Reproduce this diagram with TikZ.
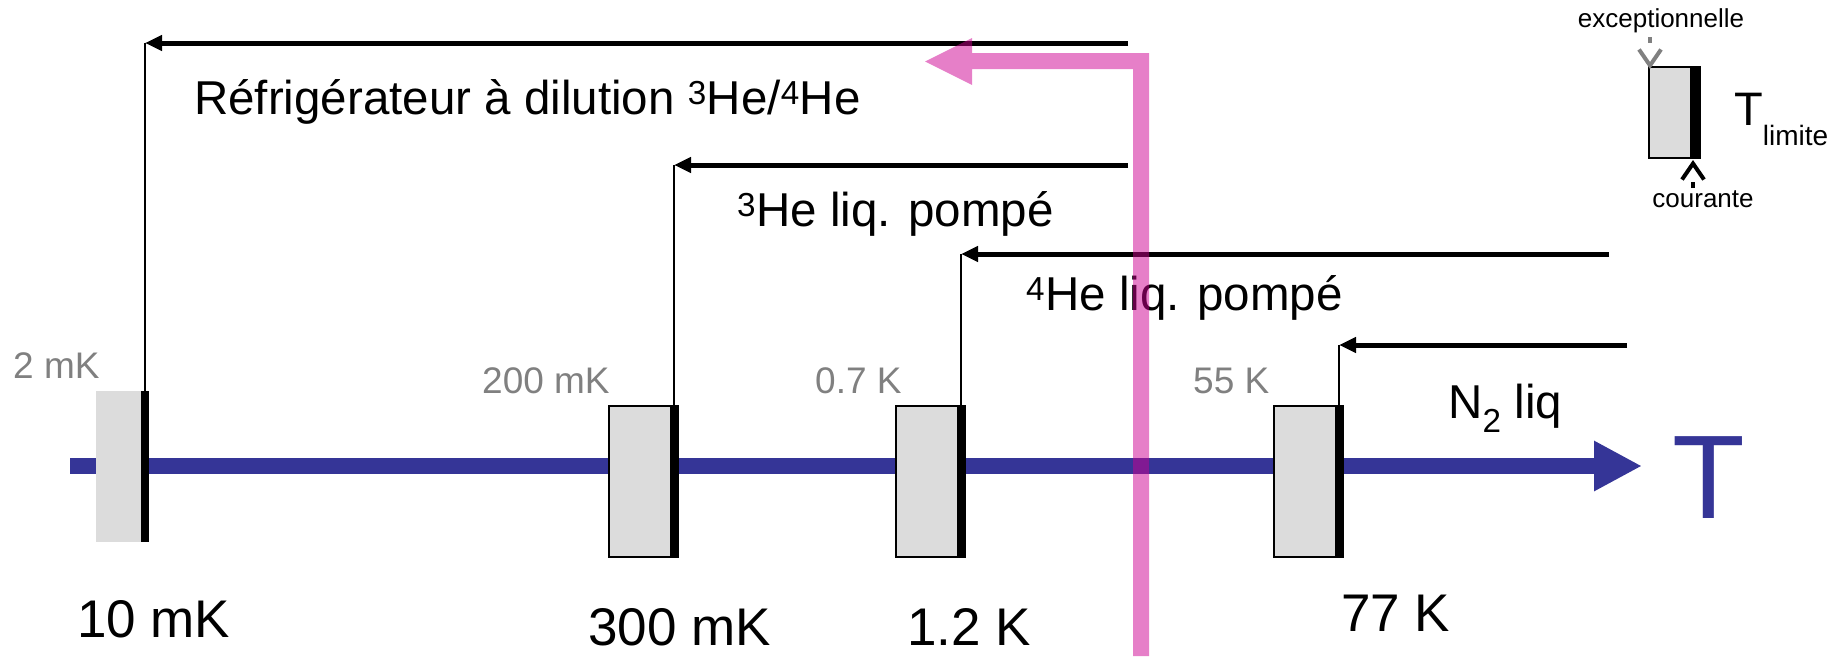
\documentclass[tikz,border=0pt]{standalone}
\usepackage{fontspec}
\setmainfont{Liberation Sans}
\usetikzlibrary{arrows.meta}
\definecolor{axisblue}{RGB}{53,53,151}
\definecolor{pumppink}{RGB}{205,0,145}
\definecolor{boxgray}{RGB}{220,220,220}
\definecolor{labelgray}{RGB}{128,128,128}
\tikzset{
	stage/.style={rectangle,fill=boxgray,draw=black,line width=1.5pt,inner sep=0pt,outer sep=0pt,minimum width=69pt,minimum height=151pt},
	feed/.style={line width=5pt,-{Triangle[length=17pt,width=15pt]}},
	stem/.style={line width=1.5pt},
	lbl/.style={inner sep=0pt,anchor=base west},
	cryo/.style={lbl,font=\fontsize{47.5}{54}\selectfont},
	tbig/.style={lbl,font=\fontsize{53}{60}\selectfont},
	tmin/.style={lbl,text=labelgray,font=\fontsize{37}{44}\selectfont},
	legtxt/.style={inner sep=0pt,anchor=base,font=\fontsize{26}{30}\selectfont},
	legtip/.style={line width=4pt,dash pattern=on 6pt off 40pt,-{Straight Barb[length=16pt,width=22pt]}}
}
\begin{document}
\begin{tikzpicture}[x=1pt,y=-1pt]
	\useasboundingbox (0,0) rectangle (1843,656);
	% axe des temperatures
	\coordinate (t0) at (70,466);
	\coordinate (t1) at (1642,466);
	\draw[axisblue,line width=16pt,-{Triangle[length=48pt,width=47pt]}] (t0) -- (t1);
	\node[lbl,text=axisblue,font=\fontsize{119}{130}\selectfont] (T) at (1672,518) {T};
	% etages
	\node[stage,draw=none,minimum width=53pt] (s1) at (122.5,466.5) {};
	\foreach \n/\x in {s2/643.5, s3/930.5, s4/1308.5}
		\node[stage] (\n) at (\x,481.5) {};
	\foreach \n in {s1,s2,s3,s4}
		\fill (\n.north east) rectangle ([xshift=-8pt]\n.south east);
	\foreach \n/\y/\xs in {s1/43/1128, s2/165/1128, s3/254/1609, s4/345/1627}{
		\path ([xshift=-4pt]\n.north east) coordinate (\n b);
		\coordinate (\n t) at (\n b |- 0,\y);
		\coordinate (\n r) at (\xs,\y);
		\draw[stem] (\n b) -- (\n t);
		\draw[feed] (\n r) -- (\n t);
	}
	% textes
	\node[cryo] (dil) at (194,114) {Réfrigérateur à dilution \textsuperscript{3}He/\textsuperscript{4}He};
	\node[cryo] (he3) at (737,226) {\textsuperscript{3}He liq. pompé};
	\node[cryo] (he4) at (1026,310) {\textsuperscript{4}He liq. pompé};
	\node[cryo] (n2) at (1448,418) {N\textsubscript{2} liq};
	\node[tmin] (m1) at (13,378) {2 mK};
	\node[tmin] (m2) at (482,393) {200 mK};
	\node[tmin] (m3) at (815,393) {0.7 K};
	\node[tmin] (m4) at (1193,393) {55 K};
	\node[tbig] (c1) at (77,637) {10 mK};
	\node[tbig] (c2) at (588,645) {300 mK};
	\node[tbig] (c3) at (907,645) {1.2 K};
	\node[tbig] (c4) at (1341,631) {77 K};
	% legende
	\node[stage,minimum width=51pt,minimum height=91pt] (leg) at (1674.5,112.5) {};
	\fill (leg.north east) rectangle ([xshift=-10pt]leg.south east);
	\node[legtxt] (exc) at (1661,27) {exceptionnelle};
	\node[legtxt] (cou) at (1703,207) {courante};
	\coordinate (e0) at (1650,37);
	\coordinate (c0) at (1693,188);
	\draw[legtip,labelgray] (e0) -- ([xshift=1pt,yshift=-2pt]leg.north west);
	\draw[legtip] (c0) -- ([xshift=-7pt,yshift=-2pt]leg.south east);
	\node[lbl,font=\fontsize{47}{54}\selectfont] (tl) at (1734,125) {T\raisebox{-20pt}{\fontsize{28}{32}\selectfont limite}};
	% pompage
	\fill[pumppink,opacity=.5] (1133,656) -- (1133,69) -- (972,69) -- (972,85) -- (925,61.5) -- (972,38) -- (972,53) -- (1149,53) -- (1149,656) -- cycle;
\end{tikzpicture}
\end{document}
